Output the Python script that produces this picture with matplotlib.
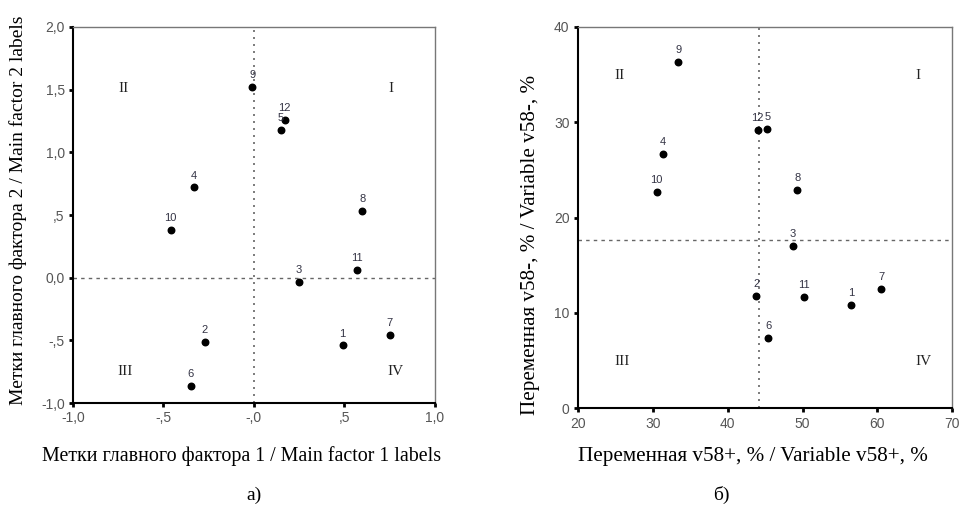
import matplotlib
matplotlib.use("Agg")
import matplotlib.pyplot as plt

# panel a) - main factor labels
ids = ["1", "2", "3", "4", "5", "6", "7", "8", "9", "10", "11", "12"]
f1 = [0.49, -0.27, 0.25, -0.33, 0.15, -0.35, 0.75, 0.60, -0.01, -0.46, 0.57, 0.17]
f2 = [-0.54, -0.51, -0.03, 0.72, 1.18, -0.86, -0.46, 0.53, 1.52, 0.38, 0.06, 1.26]
a_xticks = [-1.0, -0.5, 0.0, 0.5, 1.0]
a_xticklabels = ["-1,0", "-,5", "-,0", ",5", "1,0"]
a_yticks = [-1.0, -0.5, 0.0, 0.5, 1.0, 1.5, 2.0]
a_yticklabels = ["-1,0", "-,5", "0,0", ",5", "1,0", "1,5", "2,0"]

# panel б) - variable v58
v_plus = [56.5, 43.8, 48.7, 31.3, 45.3, 45.4, 60.5, 49.3, 33.4, 30.5, 50.2, 44.0]
v_minus = [10.8, 11.8, 17.0, 26.7, 29.3, 7.4, 12.5, 22.9, 36.3, 22.7, 11.7, 29.2]
b_xticks = [20, 30, 40, 50, 60, 70]
b_yticks = [0, 10, 20, 30, 40]
b_vline = 44.2
b_hline = 17.6

quadrants = ["I", "II", "III", "IV"]
a_quad_pos = [(0.76, 1.51), (-0.72, 1.51), (-0.71, -0.75), (0.78, -0.75)]
b_quad_pos = [(65.4, 34.9), (25.5, 34.9), (25.9, 4.9), (66.1, 4.9)]

serif = "Liberation Serif"
sans = "Liberation Sans"
tick_col = "#555555"

fig = plt.figure(figsize=(9.6, 5.09), dpi=100)
ax1 = fig.add_axes([0.076, 0.208, 0.377, 0.739])
ax2 = fig.add_axes([0.602, 0.198, 0.390, 0.749])


def style(ax):
    for s in ["left", "bottom"]:
        ax.spines[s].set_color("black")
        ax.spines[s].set_linewidth(1.5)
    for s in ["top", "right"]:
        ax.spines[s].set_color("#777777")
        ax.spines[s].set_linewidth(1.0)
    ax.tick_params(direction="out", length=3, width=2, colors="black",
                   labelcolor=tick_col, labelsize=10, pad=3)
    for t in ax.get_xticklabels() + ax.get_yticklabels():
        t.set_family(sans)


def scatter(ax, xs, ys):
    ax.scatter(xs, ys, s=22, color="black", zorder=3)
    for lab, x, y in zip(ids, xs, ys):
        ax.annotate(lab, (x, y), xytext=(0, 5), textcoords="offset points",
                    ha="center", va="bottom", fontsize=8, family=sans, color="#333344")


# a)
ax1.axvline(0, color="#666666", ls=(0, (1.2, 3)), lw=1.2, zorder=1)
ax1.axhline(0, color="#666666", ls=(0, (2.5, 3)), lw=1.0, zorder=1)
scatter(ax1, f1, f2)
ax1.set_xlim(-1.0, 1.0)
ax1.set_ylim(-1.0, 2.0)
ax1.set_xticks(a_xticks, a_xticklabels)
ax1.set_yticks(a_yticks, a_yticklabels)
style(ax1)
for q, (x, y) in zip(quadrants, a_quad_pos):
    ax1.text(x, y, q, ha="center", va="center", fontsize=11, family=serif, color="#222222")

# б)
ax2.axvline(b_vline, color="#666666", ls=(0, (1.2, 3)), lw=1.2, zorder=1)
ax2.axhline(b_hline, color="#666666", ls=(0, (2.5, 3)), lw=1.0, zorder=1)
scatter(ax2, v_plus, v_minus)
ax2.set_xlim(20, 70)
ax2.set_ylim(0, 40)
ax2.set_xticks(b_xticks)
ax2.set_yticks(b_yticks)
style(ax2)
for q, (x, y) in zip(quadrants, b_quad_pos):
    ax2.text(x, y, q, ha="center", va="center", fontsize=11, family=serif, color="#222222")

fig.text(242 / 960, 1 - 456 / 509, "Метки главного фактора 1 / Main factor 1 labels",
         ha="center", va="center", fontsize=14.4, family=serif)
fig.text(18 / 960, 1 - 210 / 509, "Метки главного фактора 2 / Main factor 2 labels",
         ha="center", va="center", rotation=90, fontsize=14, family=serif)
fig.text(753 / 960, 1 - 456 / 509, "Переменная v58+, % / Variable v58+, %",
         ha="center", va="center", fontsize=15.2, family=serif)
fig.text(530 / 960, 1 - 245 / 509, "Переменная v58-, % / Variable v58-, %",
         ha="center", va="center", rotation=90, fontsize=15.2, family=serif)
fig.text(254 / 960, 1 - 495 / 509, "а)", ha="center", va="center", fontsize=14, family=serif)
fig.text(721 / 960, 1 - 495 / 509, "б)", ha="center", va="center", fontsize=14, family=serif)

fig.savefig("out.png", dpi=100, facecolor="white")
